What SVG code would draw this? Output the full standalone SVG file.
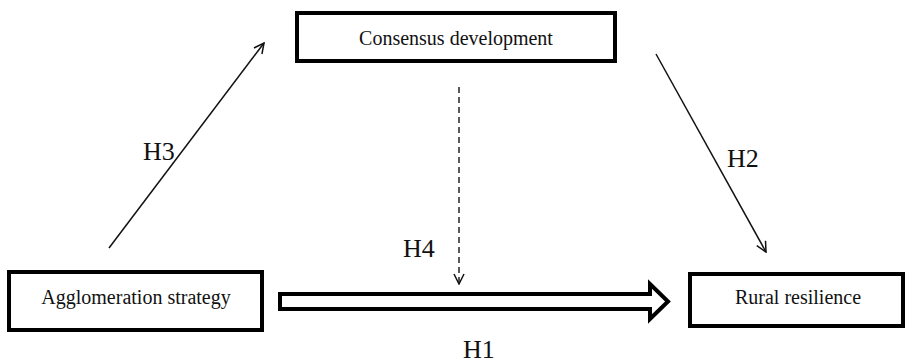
<svg xmlns="http://www.w3.org/2000/svg" width="908" height="364" viewBox="0 0 908 364">
<style>
.box{fill:#fff;stroke:#000;stroke-width:4}
.lbl{font-family:"Liberation Serif","Times New Roman",serif;font-size:20px;fill:#111;text-anchor:middle}
.h{font-family:"Liberation Serif","Times New Roman",serif;font-size:26px;fill:#111}
.ln{fill:none;stroke:#111;stroke-width:1.5}
.dash{fill:none;stroke:#222;stroke-width:1.5;stroke-dasharray:6 4}
</style>
<defs>
<marker id="open" viewBox="0 0 12 12" refX="11" refY="6" markerWidth="12" markerHeight="12" markerUnits="userSpaceOnUse" orient="auto">
<path d="M1,1 L11,6 L1,11" fill="none" stroke="#111" stroke-width="1.5"/>
</marker>
</defs>
<rect width="908" height="364" fill="#fff"/>
<g id="consensus">
<rect class="box" x="297" y="13" width="318" height="48"/>
<text class="lbl" x="456" y="45">Consensus development</text>
</g>
<g id="agglomeration">
<rect class="box" x="9" y="272" width="253" height="58"/>
<text class="lbl" x="136" y="304">Agglomeration strategy</text>
</g>
<g id="rural">
<rect class="box" x="690" y="274" width="213" height="52"/>
<text class="lbl" x="798" y="304">Rural resilience</text>
</g>
<g id="connectors">
<line class="ln" x1="109" y1="248" x2="264" y2="43" marker-end="url(#open)"/>
<line class="ln" x1="656" y1="54" x2="766" y2="252" marker-end="url(#open)"/>
<line class="dash" x1="459" y1="87" x2="459" y2="284" marker-end="url(#open)"/>
<path d="M280,294 L650,294 L650,284 L668,301.5 L650,319 L650,309 L280,309 Z" fill="#fff" stroke="#000" stroke-width="4" stroke-linejoin="miter"/>
</g>
<g id="labels">
<text class="h" x="143" y="160">H3</text>
<text class="h" x="727" y="167">H2</text>
<text class="h" x="403" y="257">H4</text>
<text class="h" x="463" y="358">H1</text>
</g>
</svg>
